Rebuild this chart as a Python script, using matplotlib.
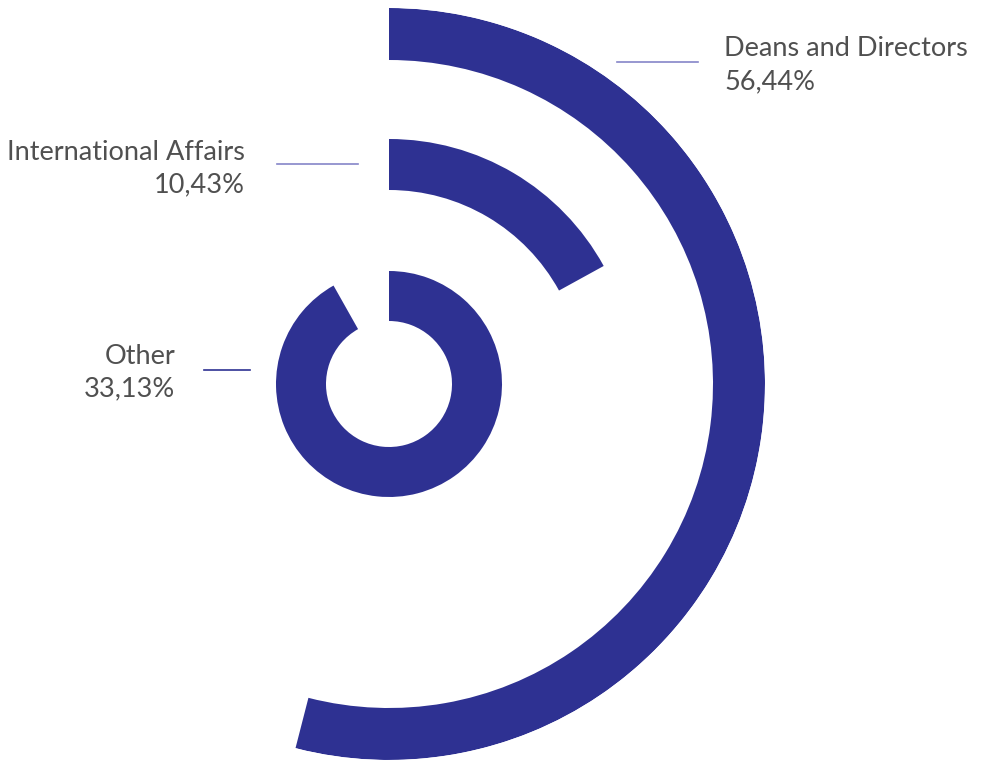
import numpy as np
import matplotlib
matplotlib.use('Agg')
import matplotlib.pyplot as plt

# data
names = ['Deans and Directors', 'International Affairs', 'Other']
values = [56.44, 10.43, 33.13]
sweep_deg = [194.4, 61.2, 330.6]      # drawn arc length of each ring
ring_inner = [324, 194, 63]           # ring radii, pixels
ring_outer = [376, 245, 113]

W, H = 983, 762
cx, cy = 389, 384
navy = '#2e3192'
light = '#8585c8'
txt = '#505050'

plt.rcParams['font.family'] = ['Lato', 'DejaVu Sans']

fig = plt.figure(figsize=(W / 100, H / 100), dpi=100)
R = max(ring_outer)
ax = fig.add_axes([(cx - R) / W, (H - cy - R) / H, 2 * R / W, 2 * R / H],
                  projection='polar')
ax.set_theta_zero_location('N')
ax.set_theta_direction(-1)
ax.set_ylim(0, R)
ax.axis('off')

for s, r0, r1 in zip(sweep_deg, ring_inner, ring_outer):
    th = np.deg2rad(s)
    ax.bar(th / 2, r1 - r0, width=th, bottom=r0, color=navy,
           edgecolor='none', align='center')

# labels and leader lines in pixel space
ov = fig.add_axes([0, 0, 1, 1])
ov.set_xlim(0, W)
ov.set_ylim(H, 0)
ov.axis('off')

fmt = lambda v: f'{v:.2f}'.replace('.', ',') + '%'
fs = 19.5

ov.plot([617, 698], [62, 62], color=light, lw=1.2)
ov.text(724, 49, names[0], ha='left', va='center', fontsize=fs, color=txt)
ov.text(724, 82, fmt(values[0]), ha='left', va='center', fontsize=fs, color=txt)

ov.plot([277, 358], [164, 164], color=light, lw=1.2)
ov.text(245, 152, names[1], ha='right', va='center', fontsize=fs, color=txt)
ov.text(245, 185, fmt(values[1]), ha='right', va='center', fontsize=fs, color=txt)

ov.plot([204, 250], [370, 370], color=navy, lw=1.2)
ov.text(175, 357, names[2], ha='right', va='center', fontsize=fs, color=txt)
ov.text(175, 389, fmt(values[2]), ha='right', va='center', fontsize=fs, color=txt)

fig.savefig('out.png', dpi=100)
